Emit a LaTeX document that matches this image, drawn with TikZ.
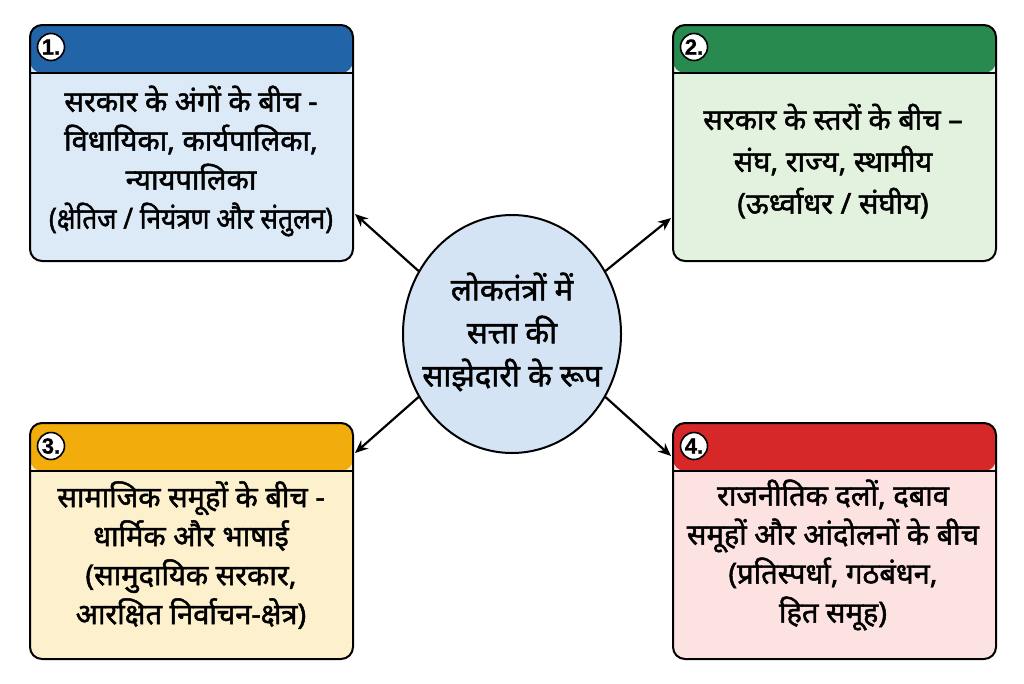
\documentclass[tikz,border=0pt]{standalone}
\usepackage{fontspec}
\setmainfont{Liberation Sans}
\newfontfamily\hindi[Script=Devanagari, FakeBold=1.6]{Noto Sans}
\newfontfamily\numfont[FakeBold=1]{Liberation Sans}
\usetikzlibrary{arrows.meta,shapes.geometric}
\definecolor{hblue}{RGB}{33,100,168}
\definecolor{bblue}{RGB}{220,233,247}
\definecolor{hgreen}{RGB}{40,138,78}
\definecolor{bgreen}{RGB}{226,242,222}
\definecolor{horange}{RGB}{242,172,12}
\definecolor{borange}{RGB}{253,240,204}
\definecolor{hred}{RGB}{214,40,40}
\definecolor{bred}{RGB}{252,226,224}
\definecolor{cfill}{RGB}{213,228,244}
\tikzset{
  card/.style 2 args={draw=black, line width=2pt, rounded corners=12pt, fill=#2,
    minimum width=323pt, minimum height=236pt, anchor=north west,
    path picture={
      \fill[#1] (path picture bounding box.north west) rectangle ([yshift=-48pt]path picture bounding box.north east);
      \draw[line width=2pt] ([yshift=-48pt]path picture bounding box.north west) -- ([yshift=-48pt]path picture bounding box.north east);
    }},
  badge/.style={circle, draw=black, line width=1.6pt, fill=white, inner sep=0pt, minimum size=27pt,
    font=\numfont\bfseries\fontsize{22}{22}\selectfont},
  txt/.style={align=center, font=\hindi\fontsize{29}{39}\selectfont},
  arr/.style={line width=2.2pt, -{Stealth[length=13pt,width=11pt]}},
}
\begin{document}
\begin{tikzpicture}[x=1pt,y=-1pt]
\useasboundingbox[fill=white] (0,0) rectangle (1024,683);
\node[card={hblue}{bblue}] (b1) at (29,24) {};
\node[card={hgreen}{bgreen}] (b2) at (672,24) {};
\node[card={horange}{borange}] (b3) at (29,422) {};
\node[card={hred}{bred}] (b4) at (672,422) {};
\node[badge] (n1) at (51,47) {1.};
\node[badge] (n2) at (694,47) {2.};
\node[badge] (n3) at (51,446) {3.};
\node[badge] (n4) at (694,446) {4.};
\node[txt] (t1) at (191,161) {सरकार के अंगों के बीच -\\विधायिका, कार्यपालिका,\\न्यायपालिका\\\scalebox{0.9}[1]{(क्षेतिज / नियंत्रण और संतुलन)}};
\node[txt, font=\hindi\fontsize{29}{42}\selectfont] (t2) at (833,161) {सरकार के स्तरों के बीच –\\संघ, राज्य, स्थामीय\\(ऊर्ध्वाधर / संघीय)};
\node[txt] (t3) at (191,555) {सामाजिक समूहों के बीच -\\धार्मिक और भाषाई\\(सामुदायिक सरकार,\\आरक्षित निर्वाचन-क्षेत्र)};
\node[txt] (t4) at (833,555) {राजनीतिक दलों, दबाव\\समूहों और आंदोलनों के बीच\\(प्रतिस्पर्धा, गठबंधन,\\हित समूह)};
\node[ellipse, draw=black, line width=2pt, fill=cfill, minimum width=218pt, minimum height=238pt] (c) at (512,334) {};
\node[txt, font=\hindi\fontsize{31}{43}\selectfont] (ct) at (512,332) {लोकतंत्रों में\\सत्ता की\\साझेदारी के रूप};
\coordinate (a1) at (355,214);
\coordinate (a2) at (671,218);
\coordinate (a3) at (355,453);
\coordinate (a4) at (671,456);
\draw[arr] (c.146) -- (a1);
\draw[arr] (c.34) -- (a2);
\draw[arr] (c.214) -- (a3);
\draw[arr] (c.326) -- (a4);
\end{tikzpicture}
\end{document}
